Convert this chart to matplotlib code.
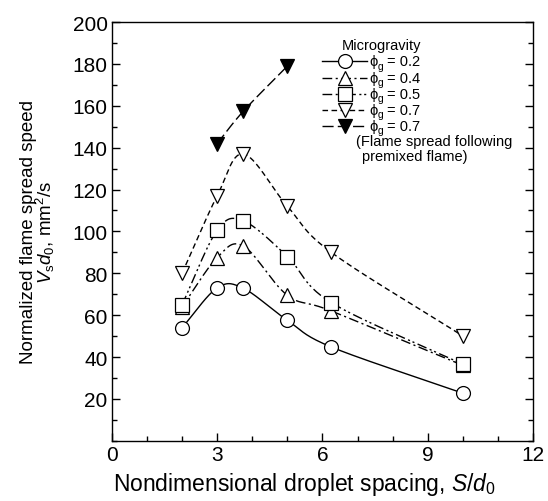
import numpy as np
import matplotlib
matplotlib.use("Agg")
import matplotlib.pyplot as plt
from matplotlib.ticker import MultipleLocator

plt.rcParams['font.family'] = ['Liberation Sans', 'DejaVu Sans']
plt.rcParams['mathtext.fontset'] = 'custom'
plt.rcParams['mathtext.rm'] = 'Liberation Sans'
plt.rcParams['mathtext.it'] = 'Liberation Sans:italic'

x_all = [2, 3, 3.75, 5, 6.25, 10]
phi02 = [54, 73, 72.8, 57.5, 44.8, 22.7]
phi04 = [64, 87.5, 93, 69.5, 62, 36]
phi05 = [65, 100.5, 105, 88, 66, 36.5]
phi07 = [80, 117, 137, 112, 90, 50]
x_pre = [3, 3.75, 5]
phi07_pre = [142, 157.5, 179]

phi_values = ['0.2', '0.4', '0.5', '0.7', '0.7']
legend_title = 'Microgravity'
note_lines = ['(Flame spread following', 'premixed flame)']


def smooth(x, y, n=30):
    x = np.asarray(x, float); y = np.asarray(y, float)
    px = np.concatenate([[2 * x[0] - x[1]], x, [2 * x[-1] - x[-2]]])
    py = np.concatenate([[2 * y[0] - y[1]], y, [2 * y[-1] - y[-2]]])
    xs, ys = [], []
    for i in range(1, len(px) - 2):
        t = np.linspace(0, 1, n)
        p0, p1, p2, p3 = [np.array([px[j], py[j]]) for j in range(i - 1, i + 3)]
        t2, t3 = t * t, t * t * t
        pts = 0.5 * ((2 * p1)[:, None] + (-p0 + p2)[:, None] * t
                     + (2 * p0 - 5 * p1 + 4 * p2 - p3)[:, None] * t2
                     + (-p0 + 3 * p1 - 3 * p2 + p3)[:, None] * t3)
        xs.extend(pts[0]); ys.extend(pts[1])
    return xs, ys


fig = plt.figure(figsize=(5.48, 5.02), dpi=100)
ax = fig.add_axes([0.204, 0.12, 0.769, 0.834])

series = [
    (x_all, phi02, 'o', 'white', '-'),
    (x_all, phi04, '^', 'white', (0, (7, 2.5, 1.5, 2.5))),
    (x_all, phi05, 's', 'white', (0, (7, 2.5, 1.5, 2, 1.5, 2.5))),
    (x_all, phi07, 'v', 'white', (0, (4, 2.5))),
    (x_pre, phi07_pre, 'v', 'black', (0, (8, 3))),
]
for xs, ys, m, fc, ls in series:
    sx, sy = smooth(xs, ys)
    ax.plot(sx, sy, color='black', lw=1.0, ls=ls, zorder=2)
    ax.plot(xs, ys, ls='none', marker=m, ms=10, mfc=fc, mec='black', mew=0.9, zorder=3)

ax.set_xlim(0, 12)
ax.set_ylim(0, 200)
ax.xaxis.set_major_locator(MultipleLocator(3))
ax.xaxis.set_minor_locator(MultipleLocator(1))
ax.yaxis.set_minor_locator(MultipleLocator(10))
ax.set_yticks(np.arange(20, 201, 20))
ax.tick_params(which='both', direction='in', left=True, right=True, top=False, bottom=True,
               labelsize=15, width=1.0)
ax.tick_params(which='major', length=6)
ax.tick_params(which='minor', length=3.5)
ax.tick_params(axis='x', pad=3)
ax.tick_params(axis='y', pad=3)
for s in ax.spines.values():
    s.set_linewidth(1.0)

ax.set_xlabel('Nondimensional droplet spacing, $S/d_0$', fontsize=16.5)
ax.xaxis.set_label_coords(0.456, -0.07)
ax.set_ylabel('Normalized flame spread speed\n$V_\\mathrm{s}d_0$, mm$^2$/s', fontsize=13.5,
              linespacing=0.85)
ax.yaxis.set_label_coords(-0.13, 0.5)

# hand-built legend (rows laid out in axes fraction)
tr = ax.transAxes
fs = 10.5
ax.text(0.639, 0.945, legend_title, transform=tr, fontsize=fs, ha='center', va='center')
row_y0, row_dy = 0.906, 0.0385
hx0, hx1, hxm, tx = 0.499, 0.606, 0.5525, 0.612
for i, ((xs, ys, m, fc, ls), val) in enumerate(zip(series, phi_values)):
    yy = row_y0 - i * row_dy
    ax.plot([hx0, hx1], [yy, yy], transform=tr, color='black', lw=1.0, ls=ls, clip_on=False)
    ax.plot([hxm], [yy], transform=tr, ls='none', marker=m, ms=10, mfc=fc, mec='black',
            mew=0.9, clip_on=False, zorder=4)
    ax.annotate('ϕ', xy=(tx, yy), xycoords=tr, xytext=(0, 0), textcoords='offset points',
                fontsize=fs, ha='left', va='center')
    ax.annotate('g', xy=(tx, yy), xycoords=tr, xytext=(5.6, -3.2), textcoords='offset points',
                fontsize=7.5, ha='left', va='center')
    ax.annotate('= ' + val, xy=(tx, yy), xycoords=tr, xytext=(12.5, 0),
                textcoords='offset points', fontsize=fs, ha='left', va='center')
ax.text(0.58, row_y0 - 5 * row_dy + 0.002, note_lines[0], transform=tr, fontsize=fs,
        ha='left', va='center')
ax.text(0.594, row_y0 - 5.9 * row_dy + 0.002, note_lines[1], transform=tr, fontsize=fs,
        ha='left', va='center')

fig.savefig('out.png', dpi=100)
